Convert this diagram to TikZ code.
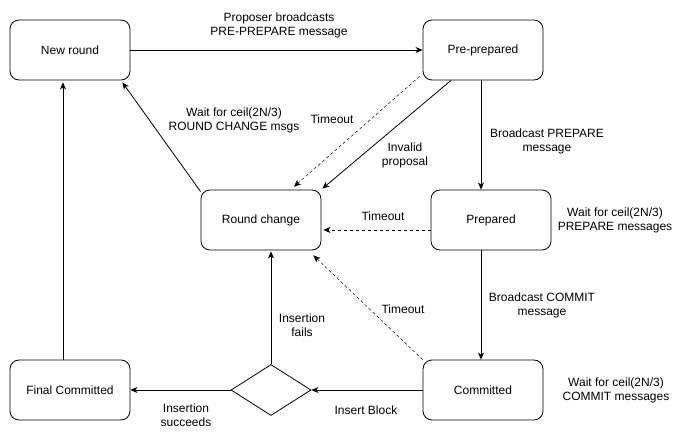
\documentclass[tikz,border=0pt]{standalone}
\usepackage{fontspec}
\setmainfont{Liberation Sans}
\usetikzlibrary{arrows.meta,shapes.geometric}
\begin{document}
\begin{tikzpicture}[x=1pt,y=-1pt,
  state/.style={draw,rounded corners=9pt,minimum width=120pt,minimum height=60pt,inner sep=0pt,line width=0.8pt,font=\fontsize{12}{14}\selectfont},
  decision/.style={draw,diamond,minimum width=80pt,minimum height=51pt,inner sep=0pt,line width=0.8pt},
  lbl/.style={align=center,inner sep=0pt,font=\fontsize{12}{14}\selectfont},
  arr/.style={-{Stealth[length=7pt,width=6pt,inset=2pt]},line width=0.8pt},
  darr/.style={arr,dash pattern=on 3pt off 3pt},
  tarr/.style={arr,line width=0.5pt,dash pattern=on 3pt off 2.5pt}]
\useasboundingbox (0,0) rectangle (691,441);
\fill[white] (0,0) rectangle (691,441);

\node[state] (nr) at (70,50) {New round};
\node[state] (pp) at (483,50) {Pre-prepared};
\node[state] (rc) at (261,220) {Round change};
\node[state] (pr) at (491,220) {Prepared};
\node[state] (cm) at (483,390) {Committed};
\node[state] (fc) at (70,390) {Final Committed};
\node[decision] (dm) at (271,390) {};

% connectors
\draw[arr] (nr.east) -- (pp.west);
\draw[tarr] ([shift={(-3,-4)}]pp.south west) -- ([shift={(33,-3)}]rc.north);
\draw[arr] ([shift={(-32,0)}]pp.south) -- ([shift={(1,-1)}]rc.north east);
\draw[arr] ([shift={(0,2)}]rc.north west) -- ([shift={(-8,2)}]nr.south east);
\draw[arr] ([shift={(-2,0)}]pp.south) -- ([shift={(-10,0)}]pr.north);
\draw[darr] ([shift={(0,10)}]pr.west) -- ([shift={(2,10)}]rc.east);
\draw[arr] ([shift={(-10,0)}]pr.south) -- ([shift={(-2,0)}]cm.north);
\draw[tarr] (cm.north west) -- ([shift={(-8,5)}]rc.south east);
\draw[arr] (cm.west) -- (dm.east);
\draw[arr] (dm.north) -- ([shift={(0,1)}]dm.north |- rc.south);
\draw[arr] (dm.west) -- (fc.east);
\draw[arr] ([shift={(-7,0)}]fc.north) -- ([shift={(-7,2)}]nr.south);

% labels
\node[lbl] (l1) at (279,25) {Proposer broadcasts\\PRE-PREPARE message};
\node[lbl] (l2) at (332,119) {Timeout};
\node[lbl] (l3) at (405,155) {Invalid\\proposal};
\node[lbl] (l4) at (234,120) {Wait for ceil(2N/3)\\ROUND CHANGE msgs};
\node[lbl] (l5) at (547,141) {Broadcast PREPARE\\message};
\node[lbl] (l6) at (383,216) {Timeout};
\node[lbl] (l7) at (542,305) {Broadcast COMMIT\\message};
\node[lbl] (l8) at (403,309) {Timeout};
\node[lbl] (l9) at (366,410) {Insert Block};
\node[lbl] (l10) at (302,325) {Insertion\\fails};
\node[lbl] (l11) at (186,415) {Insertion\\succeeds};
\node[lbl] (l12) at (615,220) {Wait for ceil(2N/3)\\PREPARE messages};
\node[lbl] (l13) at (616,390) {Wait for ceil(2N/3)\\COMMIT messages};
\end{tikzpicture}
\end{document}
